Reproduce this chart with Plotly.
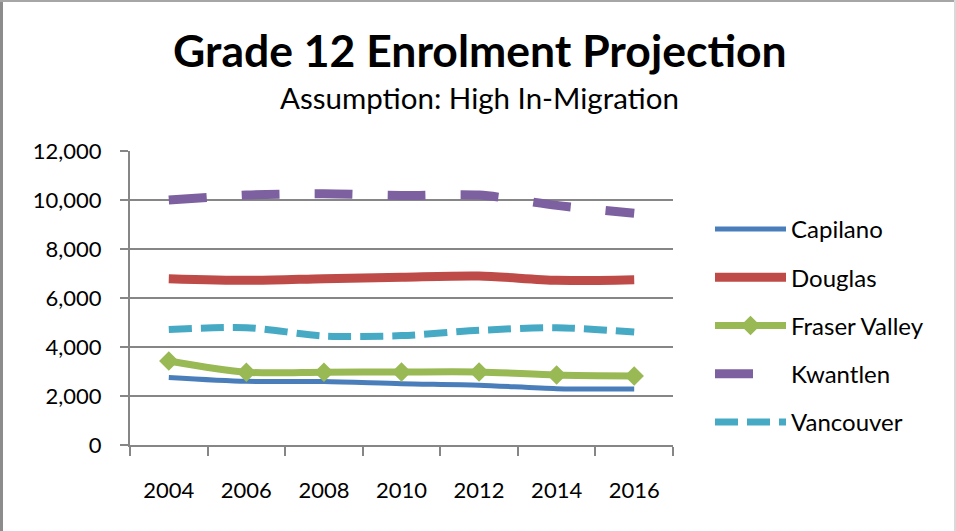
import plotly.graph_objects as go

years = ["2004", "2006", "2008", "2010", "2012", "2014", "2016"]
capilano = [2760, 2600, 2590, 2500, 2440, 2300, 2290]
douglas = [6790, 6720, 6790, 6850, 6900, 6720, 6750]
fraser_valley = [3430, 2970, 2970, 2980, 2980, 2860, 2820]
kwantlen = [10000, 10200, 10260, 10180, 10200, 9780, 9460]
vancouver = [4710, 4790, 4450, 4465, 4680, 4790, 4610]

y_ticks = [0, 2000, 4000, 6000, 8000, 10000, 12000]
y_tick_text = ["0", "2,000", "4,000", "6,000", "8,000", "10,000", "12,000"]

FONT = "Lato"
GRID = "#868686"

fig = go.Figure()
series = [
    ("Capilano", capilano, "#4A7EBB", 5, "solid", False),
    ("Douglas", douglas, "#BE4B48", 9, "solid", False),
    ("Fraser Valley", fraser_valley, "#98B954", 7, "solid", True),
    ("Kwantlen", kwantlen, "#7D60A0", 9, "38px,35px", False),
    ("Vancouver", vancouver, "#46AAC5", 7, "23px,9px", False),
]
for name, vals, color, w, dash, mk in series:
    fig.add_trace(go.Scatter(
        x=years, y=vals, name=name, legendgroup=name,
        mode="lines+markers" if mk else "lines",
        line=dict(color=color, width=w, dash=dash, shape="spline", smoothing=0.8),
        marker=dict(symbol="diamond", size=15, color=color) if mk else None,
    ))

def px_x(px):
    return (px - 130) / 543
def px_y(py):
    return 1 - (py - 151) / 294

fig.update_layout(
    width=956, height=531,
    margin=dict(l=130, r=283, t=151, b=86),
    paper_bgcolor="white", plot_bgcolor="white",
    font=dict(family=FONT, size=22, color="black"),
    title=dict(text="<b>Grade 12 Enrolment Projection</b>", xref="container", x=0.502,
               xanchor="center", y=1 - 51 / 531, yanchor="middle",
               font=dict(family=FONT, size=44.5, color="black")),
    showlegend=True,
    legend=dict(x=px_x(710), y=px_y(207), xanchor="left", yanchor="top",
                font=dict(family=FONT, size=24), tracegroupgap=14,
                itemwidth=71, bgcolor="rgba(0,0,0,0)"),
    annotations=[dict(text="Assumption: High In-Migration", xref="paper", yref="paper",
                      x=px_x(479), y=px_y(98), xanchor="center", yanchor="middle",
                      showarrow=False, font=dict(family=FONT, size=29.5, color="black"))],
)

fig.update_xaxes(type="category", range=[-0.5, 6.5], tickson="boundaries",
                 ticks="outside", ticklen=9, tickcolor=GRID, tickwidth=2,
                 showline=True, linecolor=GRID, linewidth=2, showgrid=False,
                 ticklabelstandoff=25, tickfont=dict(size=22))
fig.update_yaxes(range=[0, 12000], tickvals=y_ticks, ticktext=y_tick_text,
                 ticks="outside", ticklen=8, tickcolor=GRID, tickwidth=2,
                 showline=True, linecolor=GRID, linewidth=2,
                 showgrid=True, gridcolor=GRID, gridwidth=2, zeroline=False,
                 ticklabelstandoff=14, tickfont=dict(size=22))

# outer frame of the chart
fig.add_shape(type="line", xref="paper", yref="paper", x0=px_x(1.5), x1=px_x(1.5),
              y0=px_y(0), y1=px_y(531), line=dict(color="#8C8C8C", width=3))
fig.add_shape(type="line", xref="paper", yref="paper", x0=px_x(0), x1=px_x(956),
              y0=px_y(1), y1=px_y(1), line=dict(color="#A6A6A6", width=2))
fig.add_shape(type="line", xref="paper", yref="paper", x0=px_x(955), x1=px_x(955),
              y0=px_y(0), y1=px_y(531), line=dict(color="#D9D9D9", width=2))

fig.write_html("out.html", config={"displayModeBar": False},
               post_script="document.body.style.margin='0';")
